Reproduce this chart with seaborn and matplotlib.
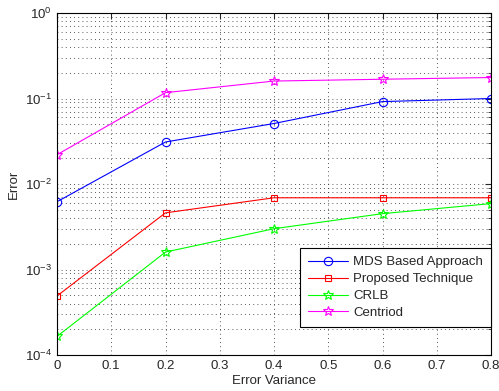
import matplotlib
matplotlib.use("Agg")
import matplotlib.pyplot as plt
import seaborn as sns
import pandas as pd
import numpy as np

x_vals = [0, 0.2, 0.4, 0.6, 0.8]
mds = [0.0062, 0.031, 0.051, 0.092, 0.10]
proposed = [0.00049, 0.0046, 0.0069, 0.0069, 0.0069]
crlb = [0.000165, 0.0016, 0.0030, 0.0045, 0.0059]
centroid = [0.022, 0.117, 0.16, 0.168, 0.176]

series_names = ["MDS Based Approach", "Proposed Technique", "CRLB", "Centriod"]
series_vals = [mds, proposed, crlb, centroid]
colors = ["#0000ff", "#ff0000", "#00ff00", "#ff00ff"]
markers = ["o", "s", "*", "*"]

sns.set_style("white")
plt.rcParams['font.family'] = ['Liberation Sans', 'DejaVu Sans']
plt.rcParams['mathtext.fontset'] = 'custom'
plt.rcParams['mathtext.rm'] = 'Liberation Sans'
plt.rcParams['mathtext.it'] = 'Liberation Sans'

rows = []
for n, v in zip(series_names, series_vals):
    for xx, yy in zip(x_vals, v):
        rows.append({"x": xx, "y": yy, "s": n})
df = pd.DataFrame(rows)

fig = plt.figure(figsize=(4.99, 3.91), dpi=100)
ax = fig.add_axes([57/499, 36/391, (491-57)/499, (355-13)/391])

for n, c, m in zip(series_names, colors, markers):
    sub = df[df.s == n]
    ms = 6 if m == "o" else (5 if m == "s" else 7)
    sns.lineplot(data=sub, x="x", y="y", ax=ax, color=c, marker=m, label=n,
                 markerfacecolor="none", markeredgecolor=c, markersize=ms,
                 linewidth=0.8, markeredgewidth=0.8)

ax.set_yscale("log")
ax.set_xlim(0, 0.8)
ax.set_ylim(1e-4, 1)
ax.set_xticks([0, 0.1, 0.2, 0.3, 0.4, 0.5, 0.6, 0.7, 0.8])
ax.set_xticklabels(["0", "0.1", "0.2", "0.3", "0.4", "0.5", "0.6", "0.7", "0.8"])
ax.grid(True, which="major", linestyle=(0, (1, 4)), color="#222222", linewidth=0.6)
ax.grid(True, which="minor", axis="y", linestyle=(0, (1, 4)), color="#222222", linewidth=0.6)
ax.set_axisbelow(True)
ax.tick_params(which="both", direction="in", top=True, right=True, labelsize=9.5)
ax.tick_params(which="major", length=4)
ax.tick_params(which="minor", length=2)
for sp in ax.spines.values():
    sp.set_color("black")
    sp.set_linewidth(0.8)
ax.set_xlabel("Error Variance", fontsize=9.5, labelpad=2)
ax.set_ylabel("Error", fontsize=9.5, labelpad=4)

leg = ax.legend(loc="lower right", fontsize=9.5, frameon=True, fancybox=False,
                edgecolor="black", borderpad=0.6, labelspacing=0.35,
                handlelength=3.0, handletextpad=0.4, borderaxespad=0,
                framealpha=1, bbox_to_anchor=(1.0, 0.082))
leg.get_frame().set_linewidth(0.8)

fig.savefig("out.png", dpi=100)
